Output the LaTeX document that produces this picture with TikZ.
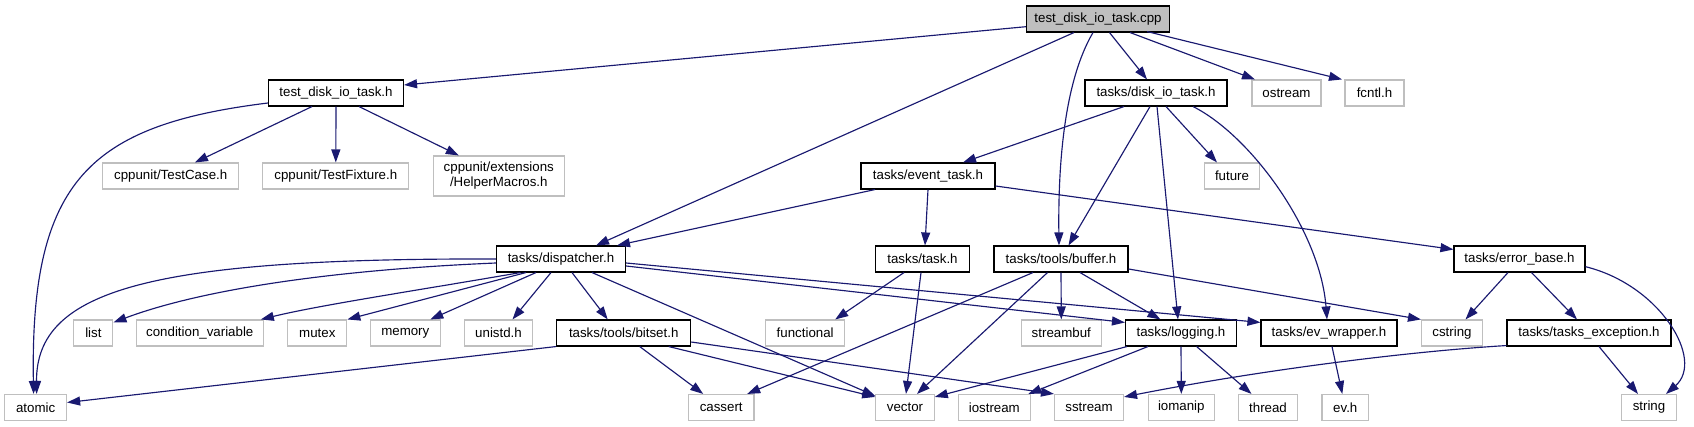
\documentclass[tikz,border=0pt]{standalone}
\usepackage{fontspec}
\setmainfont{Liberation Sans}
\usetikzlibrary{arrows.meta}
\definecolor{edgecol}{HTML}{191970}
\definecolor{extgray}{HTML}{BFBFBF}
\begin{document}
\begin{tikzpicture}[x=1pt,y=-1pt,
  hb/.style={draw=black, fill=white, line width=1.1pt, minimum height=26pt, inner sep=0pt, font=\fontsize{13.3}{15}\selectfont},
  xb/.style={hb, draw=extgray},
  rb/.style={hb, fill=extgray},
  edg/.style={draw=edgecol, line width=1.15pt, -{Triangle[length=13pt,width=9pt]}}]
\useasboundingbox (0,0) rectangle (1694,427);
% row 1
\node[rb, minimum width=143] (cpp) at (1098,19) {test\_disk\_io\_task.cpp};
% row 2
\node[hb, minimum width=135] (tdh) at (336,93) {test\_disk\_io\_task.h};
\node[hb, minimum width=142] (disk) at (1156,93) {tasks/disk\_io\_task.h};
\node[xb, minimum width=69] (ostream) at (1286.5,93) {ostream};
\node[xb, minimum width=59] (fcntl) at (1374.5,93) {fcntl.h};
% row 3
\node[xb, minimum width=136] (testcase) at (170.7,176) {cppunit/TestCase.h};
\node[xb, minimum width=146] (testfixture) at (335.8,176) {cppunit/TestFixture.h};
\node[xb, minimum width=131, minimum height=40pt, align=center] (helper) at (498.8,176) {cppunit/extensions\\/HelperMacros.h};
\node[hb, minimum width=134] (event) at (928,176) {tasks/event\_task.h};
\node[xb, minimum width=55] (future) at (1232,176) {future};
% row 4
\node[hb, minimum width=129] (dispatcher) at (561,259) {tasks/dispatcher.h};
\node[hb, minimum width=94.5] (task) at (922.5,259) {tasks/task.h};
\node[hb, minimum width=134] (buffer) at (1061,259) {tasks/tools/buffer.h};
\node[hb, minimum width=131] (errorbase) at (1519.5,259) {tasks/error\_base.h};
% row 5
\node[xb, minimum width=39] (list) at (93.4,333) {list};
\node[xb, minimum width=127] (condvar) at (199.8,333) {condition\_variable};
\node[xb, minimum width=59] (mutex) at (317.3,333) {mutex};
\node[xb, minimum width=70] (memory) at (405.3,333) {memory};
\node[xb, minimum width=68] (unistd) at (498.5,333) {unistd.h};
\node[hb, minimum width=134] (bitset) at (623.7,333) {tasks/tools/bitset.h};
\node[xb, minimum width=79] (functional) at (805.2,333) {functional};
\node[xb, minimum width=80] (streambuf) at (1061.3,333) {streambuf};
\node[hb, minimum width=111] (logging) at (1181,333) {tasks/logging.h};
\node[hb, minimum width=136] (evwrapper) at (1329,333) {tasks/ev\_wrapper.h};
\node[xb, minimum width=61] (cstring) at (1452,333) {cstring};
\node[hb, minimum width=164] (taskexc) at (1589,333) {tasks/tasks\_exception.h};
% row 6
\node[xb, minimum width=62] (atomic) at (35.6,407.5) {atomic};
\node[xb, minimum width=65.5] (cassert) at (721.2,407.5) {cassert};
\node[xb, minimum width=58.5] (vector) at (905,407.5) {vector};
\node[xb, minimum width=72] (iostream) at (994.3,407.5) {iostream};
\node[xb, minimum width=69] (sstream) at (1089,407.5) {sstream};
\node[xb, minimum width=66] (iomanip) at (1181.3,407.5) {iomanip};
\node[xb, minimum width=58.4] (thread) at (1268,407.5) {thread};
\node[xb, minimum width=46.6] (evh) at (1345.3,407.5) {ev.h};
\node[xb, minimum width=55] (string) at (1649,407.5) {string};

% edges from cpp
\draw[edg] ([yshift=-7.7pt]cpp.west) -- ([yshift=8pt]tdh.east);
\draw[edg] ([xshift=-24pt]cpp.south) -- ([xshift=35pt]dispatcher.north);
\draw[edg] ([xshift=-5pt]cpp.south) .. controls (1065,80) and (1058,160) .. ([xshift=-2pt]buffer.north);
\draw[edg] ([xshift=11.5pt]cpp.south) -- ([xshift=-9pt]disk.north);
\draw[edg] ([xshift=32pt]cpp.south) -- ([xshift=-31.5pt]ostream.north);
\draw[edg] ([xshift=49pt,yshift=1pt]cpp.south) -- ([xshift=-32.5pt]fcntl.north);
% edges from tdh
\draw[edg] ([yshift=-10pt]tdh.west) .. controls (90,125) and (30,180) .. ([xshift=-2pt]atomic.north);
\draw[edg] ([xshift=-24pt]tdh.south) -- ([xshift=24.3pt]testcase.north);
\draw[edg] (tdh.south) -- (testfixture.north);
\draw[edg] ([xshift=23pt]tdh.south) -- ([xshift=-40pt]helper.north);
% edges from disk
\draw[edg] ([xshift=-32pt]disk.south) -- ([xshift=35pt]event.north);
\draw[edg] ([xshift=-6pt]disk.south) -- ([xshift=7.5pt]buffer.north);
\draw[edg] ([xshift=1pt]disk.south) -- ([xshift=-3pt]logging.north);
\draw[edg] ([xshift=10pt]disk.south) -- ([xshift=-15pt]future.north);
\draw[edg] ([xshift=37pt]disk.south) .. controls (1250,135) and (1320,230) .. ([xshift=-2pt]evwrapper.north);
% edges from event
\draw[edg] ([xshift=-53pt]event.south) -- ([xshift=56pt]dispatcher.north);
\draw[edg] (event.south) -- ([xshift=2.5pt]task.north);
\draw[edg] ([yshift=-10pt]event.east) -- ([yshift=-4pt]errorbase.north west);
% edges from dispatcher
\draw[edg] (dispatcher.west) .. controls (150,258) and (36,290) .. ([xshift=1pt]atomic.north);
\draw[edg] ([yshift=-4pt]dispatcher.west) .. controls (330,270) and (200,290) .. ([yshift=-3pt]list.north east);
\draw[edg] ([xshift=-40.5pt]dispatcher.south) .. controls (420,290) and (320,305) .. ([xshift=-3pt]condvar.north east);
\draw[edg] ([xshift=-35pt]dispatcher.south) -- (mutex.north east);
\draw[edg] ([xshift=-25pt]dispatcher.south) -- ([xshift=25pt]memory.north);
\draw[edg] ([xshift=-10pt]dispatcher.south) -- ([xshift=14pt]unistd.north);
\draw[edg] ([xshift=11pt]dispatcher.south) -- ([xshift=-16pt]bitset.north);
\draw[edg] ([xshift=31pt]dispatcher.south) -- ([yshift=-2pt]vector.north west);
\draw[edg] ([yshift=-7pt]dispatcher.east) -- ([yshift=-3pt]logging.north west);
\draw[edg] ([yshift=-4pt]dispatcher.east) -- ([yshift=-3pt]evwrapper.north west);
% edges from task
\draw[edg] ([xshift=-18.5pt]task.south) -- ([xshift=30pt]functional.north);
\draw[edg] ([xshift=-1.5pt]task.south) -- ([xshift=1pt]vector.north);
% edges from buffer
\draw[edg] ([xshift=-28pt]buffer.south) -- ([xshift=26pt]cassert.north);
\draw[edg] ([xshift=-13.5pt]buffer.south) -- ([xshift=12pt]vector.north);
\draw[edg] (buffer.south) -- (streambuf.north);
\draw[edg] ([xshift=19pt]buffer.south) -- ([xshift=-20.6pt]logging.north);
\draw[edg] ([yshift=-10pt]buffer.east) -- (cstring.north west);
% edges from bitset
\draw[edg] (bitset.south west) -- ([yshift=5pt]atomic.east);
\draw[edg] ([xshift=16pt]bitset.south) -- ([xshift=-18pt]cassert.north);
\draw[edg] ([xshift=45pt]bitset.south) -- ([yshift=-3pt]vector.north west);
\draw[edg] ([yshift=-9pt]bitset.east) -- (sstream.north west);
% edges from logging
\draw[edg] ([xshift=2pt]logging.south west) -- ([yshift=-3pt]vector.north east);
\draw[edg] ([xshift=23pt]logging.south west) -- ([xshift=34pt]iostream.north);
\draw[edg] (logging.south) -- (iomanip.north);
\draw[edg] ([xshift=15.6pt]logging.south) -- ([xshift=-16.5pt]thread.north);
% ev_wrapper
\draw[edg] ([xshift=3pt]evwrapper.south) -- ([xshift=-3pt]evh.north);
% error_base
\draw[edg] ([xshift=-11.5pt]errorbase.south) -- ([xshift=13.5pt]cstring.north);
\draw[edg] ([xshift=12pt]errorbase.south) -- ([xshift=-12pt]taskexc.north);
\draw[edg] ([yshift=-7.7pt]errorbase.east) .. controls (1660,285) and (1705,360) .. ([xshift=17pt]string.north);
% tasks_exception
\draw[edg] ([yshift=1pt]taskexc.south west) .. controls (1400,352) and (1250,372) .. ([yshift=-3pt]sstream.north east);
\draw[edg] ([xshift=10pt]taskexc.south) -- ([xshift=-11pt]string.north);
\end{tikzpicture}
\end{document}
